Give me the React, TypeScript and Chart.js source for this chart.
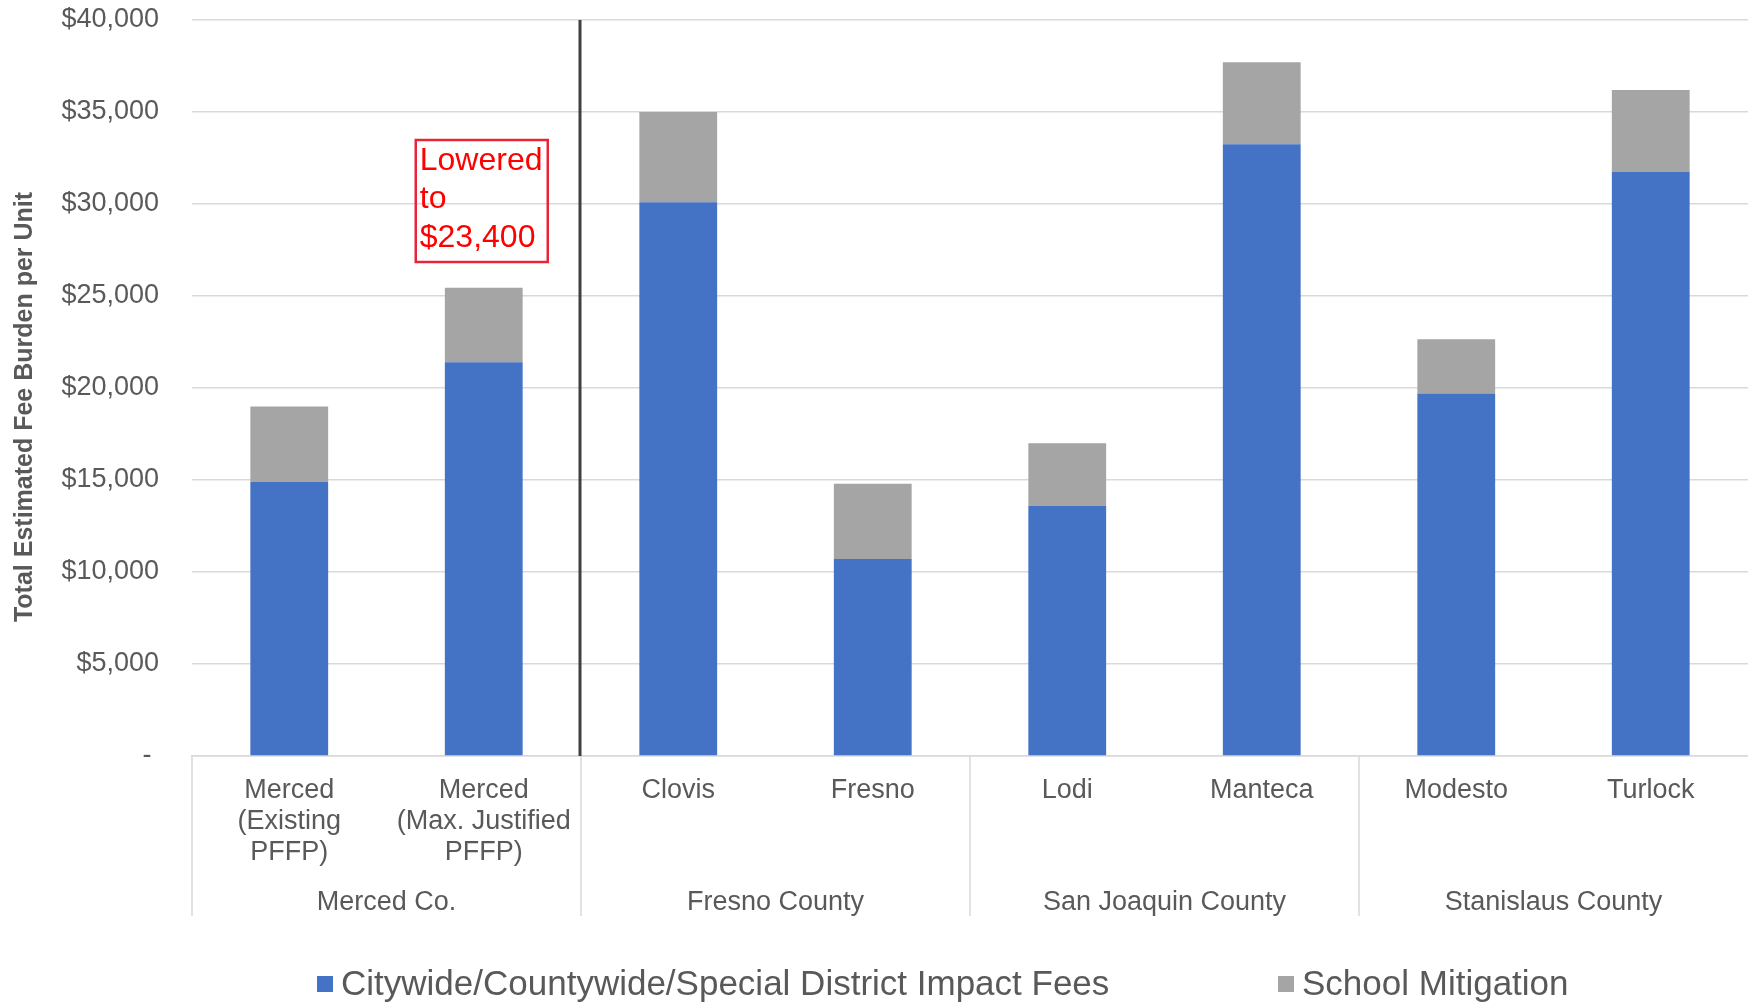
import React, { useEffect, useRef } from "react";
import { Chart, registerables } from "chart.js";

Chart.register(...registerables);

const categories: (string | string[])[] = [
  ["Merced", "(Existing", "PFFP)"],
  ["Merced", "(Max. Justified", "PFFP)"],
  "Clovis",
  "Fresno",
  "Lodi",
  "Manteca",
  "Modesto",
  "Turlock",
];
const groupLabels = ["Merced Co.", "Fresno County", "San Joaquin County", "Stanislaus County"];
const groupSizes = [2, 2, 2, 2];
const impactFees = [14900, 21400, 30100, 10700, 13600, 33250, 19700, 31750];
const schoolMitigation = [4100, 4050, 4900, 4100, 3400, 4450, 2950, 4450];
const seriesNames = ["Citywide/Countywide/Special District Impact Fees", "School Mitigation"];
const seriesColors = ["#4472C4", "#A5A5A5"];
const annotationLines = ["Lowered", "to", "$23,400"];
const yTitle = "Total Estimated Fee Burden per Unit";

const FONT = "'Liberation Sans', Arial, sans-serif";
const TEXT = "#595959";

const extras = {
  id: "extras",
  afterDatasetsDraw(chart: any) {
    const { ctx, chartArea } = chart;
    const x = chart.scales.x;
    const bottom = chartArea.bottom;
    ctx.save();
    // group separators
    const boundaries: number[] = [];
    let idx = 0;
    boundaries.push(chartArea.left);
    for (let g = 0; g < groupSizes.length - 1; g++) {
      idx += groupSizes[g];
      boundaries.push((x.getPixelForValue(idx - 1) + x.getPixelForValue(idx)) / 2);
    }
    ctx.strokeStyle = "#D9D9D9";
    ctx.lineWidth = 1.5;
    boundaries.forEach((bx) => {
      ctx.beginPath();
      ctx.moveTo(bx, bottom);
      ctx.lineTo(bx, bottom + 160);
      ctx.stroke();
    });
    // group labels
    ctx.fillStyle = TEXT;
    ctx.font = `27px ${FONT}`;
    ctx.textAlign = "center";
    ctx.textBaseline = "middle";
    let start = 0;
    groupLabels.forEach((lab, g) => {
      const a = x.getPixelForValue(start);
      const b = x.getPixelForValue(start + groupSizes[g] - 1);
      ctx.fillText(lab, (a + b) / 2, bottom + 147);
      start += groupSizes[g];
    });
    // dark divider
    const dx = (x.getPixelForValue(1) + x.getPixelForValue(2)) / 2 - 1;
    ctx.strokeStyle = "#404040";
    ctx.lineWidth = 3;
    ctx.beginPath();
    ctx.moveTo(dx, chartArea.top);
    ctx.lineTo(dx, bottom);
    ctx.stroke();
    // annotation
    const cx = x.getPixelForValue(1);
    const bx = cx - 68;
    const by = 140;
    ctx.strokeStyle = "#E8243B";
    ctx.lineWidth = 2.5;
    ctx.strokeRect(bx, by, 132, 122);
    ctx.fillStyle = "#FF0000";
    ctx.font = `32px ${FONT}`;
    ctx.textAlign = "left";
    annotationLines.forEach((t, i) => ctx.fillText(t, bx + 4, 161 + i * 38.5));
    // y title
    ctx.save();
    ctx.translate(25, 407);
    ctx.rotate(-Math.PI / 2);
    ctx.fillStyle = TEXT;
    ctx.font = `bold 25px ${FONT}`;
    ctx.textAlign = "center";
    ctx.fillText(yTitle, 0, 0);
    ctx.restore();
    // legend
    const legendX = [317, 1278];
    ctx.font = `35px ${FONT}`;
    ctx.textAlign = "left";
    seriesNames.forEach((n, i) => {
      ctx.fillStyle = seriesColors[i];
      ctx.fillRect(legendX[i], 976, 16, 16);
      ctx.fillStyle = TEXT;
      ctx.fillText(n, legendX[i] + 24, 985);
    });
    ctx.restore();
  },
};

export default function App() {
  const ref = useRef<HTMLCanvasElement>(null);
  useEffect(() => {
    document.body.style.margin = "0";
    const chart = new Chart(ref.current!, {
      type: "bar",
      data: {
        labels: categories,
        datasets: [
          { label: seriesNames[0], data: impactFees, backgroundColor: seriesColors[0] },
          { label: seriesNames[1], data: schoolMitigation, backgroundColor: seriesColors[1] },
        ],
      },
      options: {
        responsive: false,
        animation: false,
        layout: { padding: { top: 20, right: -5, bottom: 87, left: 0 } },
        datasets: { bar: { categoryPercentage: 1, barPercentage: 0.4 } },
        plugins: { legend: { display: false }, tooltip: { enabled: false } },
        scales: {
          x: {
            stacked: true,
            grid: { display: false },
            border: { display: true, color: "#D9D9D9", width: 1.5 },
            ticks: {
              color: TEXT,
              font: { family: FONT, size: 27, lineHeight: 1.15 },
              padding: 11,
              maxRotation: 0,
              autoSkip: false,
            },
            afterFit: (s: any) => {
              s.height = 160;
              s.paddingLeft = 0;
              s.paddingRight = 0;
            },
          },
          y: {
            stacked: true,
            min: 0,
            max: 40000,
            grid: { color: "#D9D9D9", lineWidth: 1.5, drawTicks: false },
            border: { display: false },
            ticks: {
              stepSize: 5000,
              color: TEXT,
              padding: 33,
              font: { family: FONT, size: 27 },
              callback: (v: any) => (v === 0 ? "- " : "$" + Number(v).toLocaleString("en-US")),
            },
            afterFit: (s: any) => {
              s.width = 192;
              s.paddingTop = 0;
              s.paddingBottom = 0;
            },
          },
        },
      },
      plugins: [extras],
    });
    return () => chart.destroy();
  }, []);
  return (
    <div style={{ width: 1748, height: 1003, background: "#fff" }}>
      <canvas ref={ref} width={1748} height={1003} />
    </div>
  );
}
